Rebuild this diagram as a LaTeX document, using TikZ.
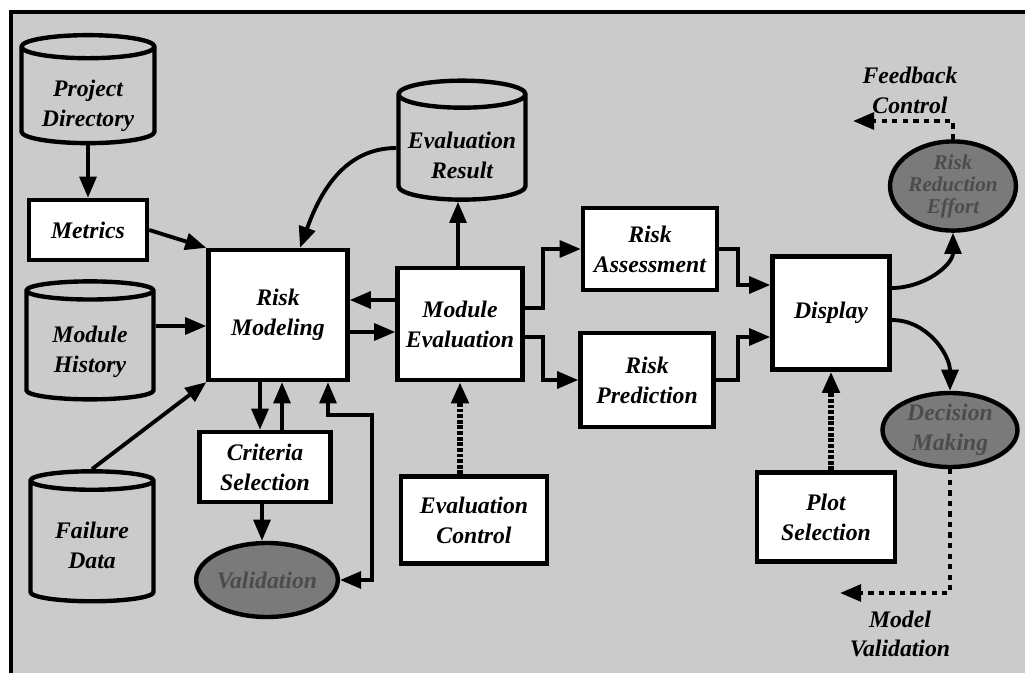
\documentclass[tikz,border=0pt]{standalone}
\usepackage{fontspec}
\setmainfont{Liberation Serif}
\usetikzlibrary{shapes.geometric,arrows.meta}

\definecolor{stipple}{HTML}{cbcbcb}
\definecolor{darkstip}{HTML}{7a7a7a}

\begin{document}
\begin{tikzpicture}[x=0.02cm, y=-0.02cm,
    >={Triangle[length=12pt,width=9.5pt]},
    font=\bfseries\itshape\fontsize{13.5}{17}\selectfont,
    every node/.append style={align=center, inner sep=0pt, line width=2.5pt},
    box/.style={draw, fill=white, rectangle},
    store/.style={draw, fill=stipple, cylinder, shape border rotate=90, aspect=0.25},
    blob/.style={draw, fill=darkstip, ellipse, text=black!70},
    arr/.style={->, line width=2.2pt},
    ctl/.style={arr, densely dotted, line width=3.2pt},
    fbk/.style={arr, dashed, line width=2.2pt}]

    \useasboundingbox (0,0) rectangle (1025,673);
    \fill[stipple] (11,12) rectangle (1025,673);
    \draw[line width=2.6pt] (11,673) -- (11,12) -- (1025,12);

    % data stores (text lowered into the body, below the lid)
    \node[store, minimum width=2.66cm, minimum height=2.16cm,
        label={[yshift=-5.7pt]center:Project\\Directory}] (dir) at (88,96) {\phantom{Directory}\\~};
    \node[store, minimum width=2.54cm, minimum height=2.36cm,
        label={[yshift=-3.4pt]center:Module\\History}] (hist) at (90,346) {\phantom{History}\\~};
    \node[store, minimum width=2.46cm, minimum height=2.6cm,
        label={[yshift=-1.7pt]center:Failure\\Data}] (fail) at (92,542) {\phantom{Failure}\\~};
    \node[store, minimum width=2.54cm, minimum height=2.38cm,
        label={[yshift=-4pt]center:Evaluation\\Result}] (evres) at (462,148) {\phantom{Evaluation}\\~};

    % processes
    \node[box, minimum width=2.36cm, minimum height=1.2cm] (metrics) at (88,230) {Metrics};
    \node[box, minimum width=2.78cm, minimum height=2.6cm] (rm) at (278,315) {Risk\\Modeling};
    \node[box, minimum width=2.62cm, minimum height=1.4cm] (crit) at (265,467) {Criteria\\Selection};
    \node[box, minimum width=2.5cm, minimum height=2.24cm] (me) at (460,324) {Module\\Evaluation};
    \node[box, minimum width=2.92cm, minimum height=1.74cm] (econ) at (474,520) {Evaluation\\Control};
    \node[box, minimum width=2.68cm, minimum height=1.64cm] (ra) at (650,249) {Risk\\Assessment};
    \node[box, minimum width=2.66cm, minimum height=1.88cm] (rp) at (647,380) {Risk\\Prediction};
    \node[box, minimum width=2.34cm, minimum height=2.26cm] (disp) at (831,313) {Display};
    \node[box, minimum width=2.76cm, minimum height=1.78cm] (plot) at (826,517) {Plot\\Selection};

    % outcomes
    \node[blob, minimum width=2.52cm, minimum height=1.48cm] (valid) at (267,580) {Validation};
    \node[blob, minimum width=2.5cm, minimum height=1.52cm,
        font=\bfseries\itshape\fontsize{12}{12.5}\selectfont] (rre) at (953,186) {Risk\\Reduction\\Effort};
    \node[blob, minimum width=2.7cm, minimum height=1.48cm] (dm) at (950,430) {Decision\\Making};

    \node (fb) at (910,90) {Feedback\\Control};
    \node (mv) at (900,634) {Model\\Validation};
    \coordinate (fbend) at (853,121);
    \coordinate (mvend) at (840,593);

    % data flow
    \draw[arr] (dir.south) -- (metrics.north);
    \draw[arr] (metrics.east) -- (rm.north west);
    \draw[arr] (hist.east |- 0,326) -- (rm.west |- 0,326);
    \draw[arr] (fail.north) -- (rm.south west);
    \draw[arr] (rm.south -| 260,0) -- (crit.north -| 260,0);
    \draw[arr] (crit.north -| 282,0) -- (rm.south -| 282,0);
    \draw[arr] (crit.south -| 262,0) -- (valid.north -| 262,0);
    \draw[arr, <->] (valid.east) -- (372,580) |- (328,415) -- (rm.south -| 328,0);
    \path[arr] (evres.west) edge[out=180, in=70] (rm.north -| 300,0);
    \draw[arr] (me.west |- 0,300) -- (rm.east |- 0,300);
    \draw[arr] (rm.east |- 0,332) -- (me.west |- 0,332);
    \draw[arr] (me.north -| 458,0) -- (evres.south -| 458,0);
    \draw[arr] (me.east |- 0,308) -- (543,308) |- (ra.west);
    \draw[arr] (me.east |- 0,337) -- (543,337) |- (rp.west);
    \draw[arr] (ra.east) -- (738,249) |- (disp.west |- 0,285);
    \draw[arr] (rp.east) -- (738,380) |- (disp.west |- 0,337);
    \path[arr] (disp.east |- 0,288) edge[out=0, in=-90] (rre.south);
    \path[arr] (disp.east |- 0,320) edge[out=0, in=90] (dm.north);

    % control
    \draw[ctl] (me.south |- econ.north) -- (me.south);
    \draw[ctl] (disp.south |- plot.north) -- (disp.south);
    \draw[fbk] (rre.north) |- (fbend);
    \draw[fbk] (dm.south) |- (mvend);
\end{tikzpicture}
\end{document}
